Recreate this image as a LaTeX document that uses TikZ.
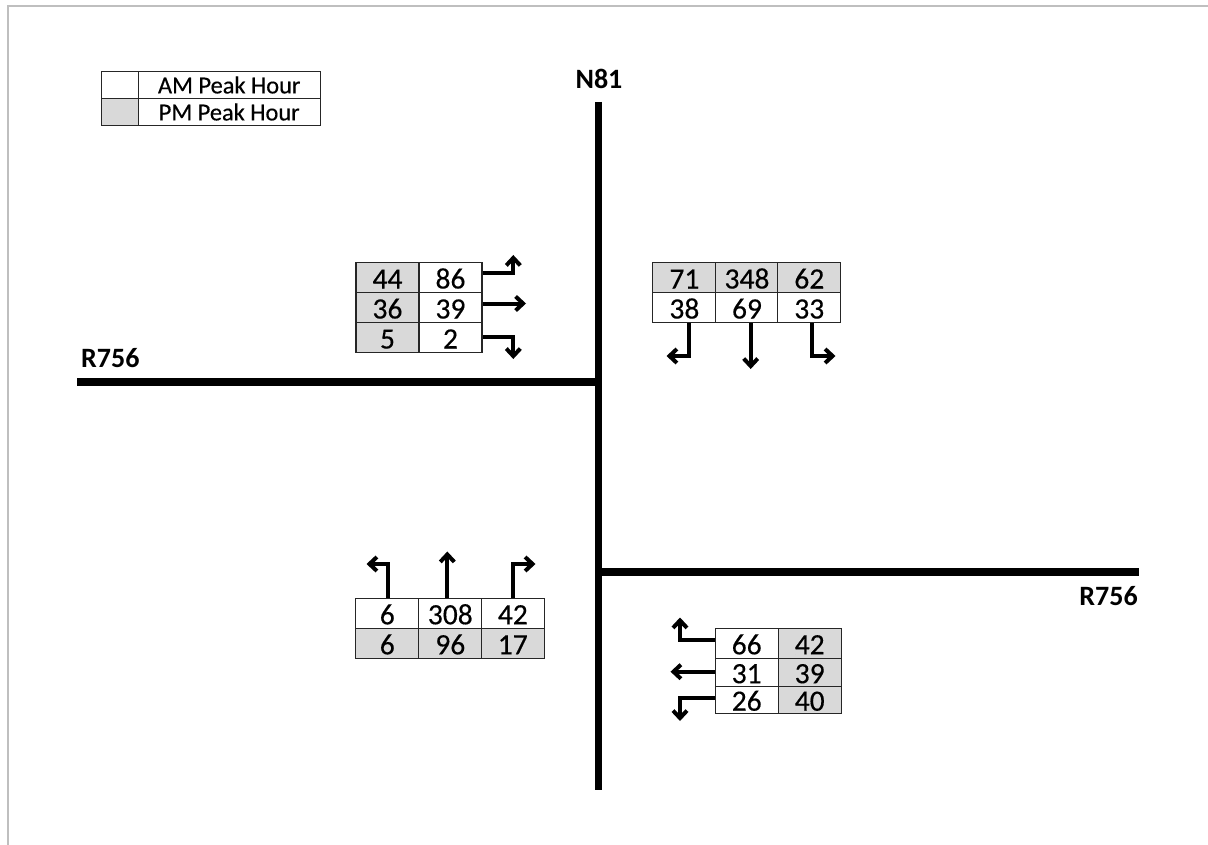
\documentclass[tikz,border=0pt]{standalone}
\usepackage{fontspec}
\setmainfont{Carlito}
\newfontfamily\cellfont{Carlito}[FakeBold=0.35]
\usetikzlibrary{arrows.meta}
\definecolor{cellgray}{HTML}{D9D9D9}
\definecolor{framegray}{HTML}{BFBFBF}
\begin{document}
\begin{tikzpicture}[x=1pt,y=-1pt,
  road/.style={line width=7.5pt},
  roadlabel/.style={font=\fontsize{28}{30}\selectfont\bfseries, inner sep=0},
  cell/.style={draw=black!85, line width=1.1pt, inner sep=0, minimum width=63pt,
    minimum height=30pt, text height=22pt, text depth=0pt,
    font=\cellfont\fontsize{29.5}{32}\selectfont},
  pm/.style={cell, fill=cellgray},
  am/.style={cell, fill=white},
  legcell/.style={draw=black!85, line width=1.1pt, inner sep=0, minimum height=27pt,
    font=\cellfont\fontsize{24.4}{27}\selectfont},
  arr/.style={line width=4pt, -{Straight Barb[length=7.5pt,width=14pt]}},
]
\useasboundingbox (0,0) rectangle (1208,845);

% page frame
\draw[framegray, line width=2pt] (8,845) -- (8,6) -- (1208,6);

% roads
\coordinate (nTop) at (598.5,102);
\coordinate (nBot) at (598.5,790);
\coordinate (wEnd) at (77,382);
\coordinate (wJoin) at (598.5,382);
\coordinate (eJoin) at (598.5,572);
\coordinate (eEnd) at (1139,572);
\draw[road] (nTop) -- (nBot);
\draw[road] (wEnd) -- (wJoin);
\draw[road] (eJoin) -- (eEnd);

\node[roadlabel] (lblN) at (599,79) {N81};
\node[roadlabel, anchor=west] (lblW) at (81,358) {R756};
\node[roadlabel, anchor=east] (lblE) at (1138,596) {R756};

% legend
\node[legcell, fill=white, minimum width=36.5pt] (legA) at (120,85) {};
\node[legcell, fill=white, minimum width=182pt] (legAt) at (229.2,85) {AM Peak Hour};
\node[legcell, fill=cellgray, minimum width=36.5pt] (legP) at (120,112) {};
\node[legcell, fill=white, minimum width=182pt] (legPt) at (229.2,112) {PM Peak Hour};

% north-west approach (from R756 west)
\node[pm] (nw11) at (387.5,277.5) {44};
\node[am] (nw12) at (450.5,277.5) {86};
\node[pm] (nw21) at (387.5,307.5) {36};
\node[am] (nw22) at (450.5,307.5) {39};
\node[pm] (nw31) at (387.5,337.5) {5};
\node[am] (nw32) at (450.5,337.5) {2};
\coordinate (nwT1) at (513.3,255);
\coordinate (nwT2) at (526,303.5);
\coordinate (nwT3) at (513.3,359);
\draw[arr] ([yshift=4pt]nw12.east) -| (nwT1);
\draw[arr] ([yshift=4pt]nw22.east) -- (nwT2);
\draw[arr] ([yshift=0.5pt]nw32.east) -| (nwT3);

% north-east approach (from N81 north)
\node[pm] (ne11) at (684.4,277.5) {71};
\node[pm] (ne12) at (747,277.5) {348};
\node[pm] (ne13) at (809.3,277.5) {62};
\node[am] (ne21) at (684.4,307.5) {38};
\node[am] (ne22) at (747,307.5) {69};
\node[am] (ne23) at (809.3,307.5) {33};
\coordinate (neT1) at (666.5,356);
\coordinate (neT2) at (750.7,369);
\coordinate (neT3) at (835.5,356);
\draw[arr] ([xshift=5pt]ne21.south) |- (neT1);
\draw[arr] ([xshift=3.7pt]ne22.south) -- (neT2);
\draw[arr] ([xshift=3pt]ne23.south) |- (neT3);

% south-west approach (from N81 south)
\node[am] (sw11) at (387.3,613.3) {6};
\node[am] (sw12) at (450.3,613.3) {308};
\node[am] (sw13) at (512.8,613.3) {42};
\node[pm] (sw21) at (387.3,643.3) {6};
\node[pm] (sw22) at (450.3,643.3) {96};
\node[pm] (sw23) at (512.8,643.3) {17};
\coordinate (swT1) at (366.5,564);
\coordinate (swT2) at (447.3,551.5);
\coordinate (swT3) at (535.5,564);
\draw[arr] ([xshift=1pt]sw11.north) |- (swT1);
\draw[arr] ([xshift=-3pt]sw12.north) -- (swT2);
\draw[arr] ([xshift=0.5pt]sw13.north) |- (swT3);

% south-east approach (from R756 east)
\node[am, minimum height=30pt] (se11) at (746.7,643.3) {66};
\node[pm, minimum height=30pt] (se12) at (809.7,643.3) {42};
\node[am, minimum height=27.7pt] (se21) at (746.7,672.2) {31};
\node[pm, minimum height=27.7pt] (se22) at (809.7,672.2) {39};
\node[am, minimum height=27.3pt] (se31) at (746.7,699.7) {26};
\node[pm, minimum height=27.3pt] (se32) at (809.7,699.7) {40};
\coordinate (seT1) at (680,617.5);
\coordinate (seT2) at (670.5,671.7);
\coordinate (seT3) at (680,721);
\draw[arr] ([yshift=3.3pt]se11.west) -| (seT1);
\draw[arr] ([yshift=0.5pt]se21.west) -- (seT2);
\draw[arr] ([yshift=1.4pt]se31.west) -| (seT3);
\end{tikzpicture}
\end{document}
